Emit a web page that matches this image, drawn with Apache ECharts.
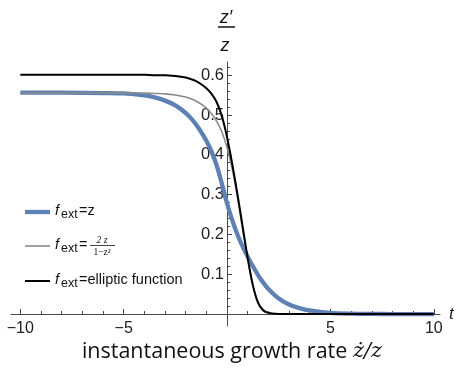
<!DOCTYPE html>
<html><head><meta charset="utf-8">
<script src="https://cdn.jsdelivr.net/npm/echarts@6/dist/echarts.min.js"></script>
<style>html,body{margin:0;padding:0;background:#fff}#c{width:457px;height:374px}</style>
</head><body><div id="c"></div>
<script>
// time samples (shared by all three curves)
const tValues = [-10,-8,-6,-5,-4,-3.5,-3,-2.5,-2,-1.75,-1.5,-1.25,-1,-0.75,-0.5,-0.25,0,0.25,0.5,0.75,1,1.25,1.5,1.75,2,2.5,3,3.5,4,5,6,7,8,10];
// f_ext = z
const blueValues = [0.556,0.556,0.555,0.554,0.549,0.544,0.536,0.524,0.505,0.492,0.476,0.457,0.435,0.408,0.373,0.327,0.278,0.236,0.200,0.170,0.144,0.120,0.098,0.079,0.063,0.039,0.024,0.015,0.009,0.003,0.001,0.0003,0,0];
// f_ext = 2z/(1-z^2)
const grayValues = [0.555,0.555,0.555,0.555,0.555,0.554,0.553,0.550,0.545,0.541,0.535,0.527,0.517,0.503,0.484,0.457,0.418,0.365,0.295,0.215,0.138,0.072,0.030,0.011,0.004,0.0005,0,0,0,0,0,0,0,0];
// f_ext = elliptic function
const blackValues = [0.601,0.601,0.601,0.601,0.601,0.600,0.600,0.598,0.594,0.590,0.585,0.577,0.567,0.553,0.532,0.497,0.444,0.377,0.302,0.221,0.140,0.072,0.028,0.009,0.003,0.0003,0,0,0,0,0,0,0,0];

const xMajorTicks = [-10,-5,5,10];
const xMinorTicks = [-9,-8,-7,-6,-4,-3,-2,-1,1,2,3,4,6,7,8,9];
const yMajorTicks = [0.1,0.2,0.3,0.4,0.5,0.6];
const yMinorTicks = [0.02,0.04,0.06,0.08,0.12,0.14,0.16,0.18,0.22,0.24,0.26,0.28,0.32,0.34,0.36,0.38,0.42,0.44,0.46,0.48,0.52,0.54,0.56,0.58,0.62];

const legendLabels = ['=z', '=', '=elliptic function'];
const axisTitle = 'instantaneous growth rate ';

const pairs = vals => tValues.map((t, i) => [t, vals[i]]);

const AX = '#4a4a4a';
const chart = echarts.init(document.getElementById('c'), null, {renderer: 'canvas'});
// axes cross at the origin: shift them inward from the grid edges
const X_OFF = -12;   // x axis sits at value 0, 12px above grid bottom
const Y_OFF = -216;  // y axis sits at t = 0, 216px right of grid left
const xBase = {type: 'value', min: -10.45, max: 10.3, splitLine: {show: false}, position: 'bottom', offset: X_OFF};
const yBase = {type: 'value', min: -0.03, max: 0.633, splitLine: {show: false}, position: 'left', offset: Y_OFF};

chart.setOption({
  animation: false,
  backgroundColor: '#ffffff',
  grid: {left: 11, right: 17, top: 62, bottom: 48, containLabel: false, outerBoundsMode: 'none'},
  xAxis: [
    Object.assign({}, xBase, {
      axisLine: {show: true, onZero: false, lineStyle: {color: AX, width: 1}},
      axisTick: {show: true, inside: true, length: 5, customValues: xMajorTicks, lineStyle: {color: AX}},
      axisLabel: {show: true, customValues: xMajorTicks, margin: 7, fontSize: 16, color: '#222', fontFamily: 'Liberation Sans',
        formatter: v => String(v).replace('-', '\u2212')},
      name: 't', nameLocation: 'end', nameGap: 9,
      nameTextStyle: {fontStyle: 'italic', fontSize: 17, color: '#222', fontFamily: 'Liberation Sans'}
    }),
    Object.assign({}, xBase, {
      axisLine: {show: false, onZero: false},
      axisTick: {show: true, inside: true, length: 3, customValues: xMinorTicks, lineStyle: {color: AX}},
      axisLabel: {show: false}
    })
  ],
  yAxis: [
    Object.assign({}, yBase, {
      axisLine: {show: true, onZero: false, lineStyle: {color: AX, width: 1}},
      axisTick: {show: true, inside: true, length: 5, customValues: yMajorTicks, lineStyle: {color: AX}},
      axisLabel: {show: true, customValues: yMajorTicks, margin: 3, fontSize: 16.5, color: '#222', fontFamily: 'Liberation Sans',
        formatter: v => v.toFixed(1)}
    }),
    Object.assign({}, yBase, {
      axisLine: {show: false, onZero: false},
      axisTick: {show: true, inside: true, length: 3, customValues: yMinorTicks, lineStyle: {color: AX}},
      axisLabel: {show: false}
    })
  ],
  series: [
    {type: 'line', name: 'z', data: pairs(blueValues), showSymbol: false, smooth: 0.3, z: 2,
      lineStyle: {color: '#5E81B5', width: 4.3}},
    {type: 'line', name: 'frac', data: pairs(grayValues), showSymbol: false, smooth: 0.3, z: 3,
      lineStyle: {color: '#8a8a8a', width: 1.6}},
    {type: 'line', name: 'elliptic', data: pairs(blackValues), showSymbol: false, smooth: 0.3, z: 4,
      lineStyle: {color: '#000', width: 2}}
  ],
  graphic: [
    // y axis title: z' / z
    {type: 'text', x: 226, y: 18, style: {text: 'z\u2032', fontSize: 18, fontStyle: 'italic', fontFamily: 'Liberation Sans', fill: '#111', textAlign: 'center', textVerticalAlign: 'middle'}},
    {type: 'line', shape: {x1: 218, y1: 27, x2: 235, y2: 27}, style: {stroke: '#111', lineWidth: 1.5}},
    {type: 'text', x: 225, y: 46, style: {text: 'z', fontSize: 18, fontStyle: 'italic', fontFamily: 'Liberation Sans', fill: '#111', textAlign: 'center', textVerticalAlign: 'middle'}},
    // bottom title
    {type: 'text', x: 232, y: 352, style: {
      text: '{a|' + axisTitle + '}{m|\u017C/z}', textAlign: 'center', textVerticalAlign: 'middle',
      rich: {a: {fontSize: 21.5, fontFamily: 'Open Sans', fill: '#111'},
             m: {fontSize: 21, fontFamily: 'DejaVu Serif', fontStyle: 'italic', fill: '#111'}}}},
    // legend row 1
    {type: 'line', shape: {x1: 25, y1: 212, x2: 50, y2: 212}, style: {stroke: '#5E81B5', lineWidth: 4.3}},
    {type: 'text', x: 55, y: 211, style: {text: 'f', fontSize: 14.5, fontStyle: 'italic', fontFamily: 'Liberation Sans', fill: '#111', textVerticalAlign: 'middle'}},
    {type: 'text', x: 61, y: 215, style: {text: 'ext', fontSize: 12.5, fontFamily: 'Liberation Sans', fill: '#111', textVerticalAlign: 'middle'}},
    {type: 'text', x: 79, y: 211, style: {text: legendLabels[0], fontSize: 14.5, fontFamily: 'Liberation Sans', fill: '#111', textVerticalAlign: 'middle'}},
    // legend row 2
    {type: 'line', shape: {x1: 25, y1: 246, x2: 50, y2: 246}, style: {stroke: '#8a8a8a', lineWidth: 1.6}},
    {type: 'text', x: 55, y: 245, style: {text: 'f', fontSize: 14.5, fontStyle: 'italic', fontFamily: 'Liberation Sans', fill: '#111', textVerticalAlign: 'middle'}},
    {type: 'text', x: 61, y: 249, style: {text: 'ext', fontSize: 12.5, fontFamily: 'Liberation Sans', fill: '#111', textVerticalAlign: 'middle'}},
    {type: 'text', x: 79, y: 245, style: {text: legendLabels[1], fontSize: 14.5, fontFamily: 'Liberation Sans', fill: '#111', textVerticalAlign: 'middle'}},
    {type: 'text', x: 102, y: 240, style: {text: '2 z', fontSize: 9.5, fontFamily: 'Liberation Serif', fontStyle: 'italic', fill: '#111', textAlign: 'center', textVerticalAlign: 'middle'}},
    {type: 'line', shape: {x1: 90, y1: 245.5, x2: 115, y2: 245.5}, style: {stroke: '#111', lineWidth: 0.8}},
    {type: 'text', x: 102, y: 252, style: {text: '1\u2212z\u00B2', fontSize: 9.5, fontFamily: 'Liberation Serif', fill: '#111', textAlign: 'center', textVerticalAlign: 'middle'}},
    // legend row 3
    {type: 'line', shape: {x1: 25, y1: 281, x2: 50, y2: 281}, style: {stroke: '#000', lineWidth: 2}},
    {type: 'text', x: 55, y: 280, style: {text: 'f', fontSize: 14.5, fontStyle: 'italic', fontFamily: 'Liberation Sans', fill: '#111', textVerticalAlign: 'middle'}},
    {type: 'text', x: 61, y: 284, style: {text: 'ext', fontSize: 12.5, fontFamily: 'Liberation Sans', fill: '#111', textVerticalAlign: 'middle'}},
    {type: 'text', x: 79, y: 280, style: {text: legendLabels[2], fontSize: 14.5, fontFamily: 'Liberation Sans', fill: '#111', textVerticalAlign: 'middle'}}
  ]
});
</script></body></html>
